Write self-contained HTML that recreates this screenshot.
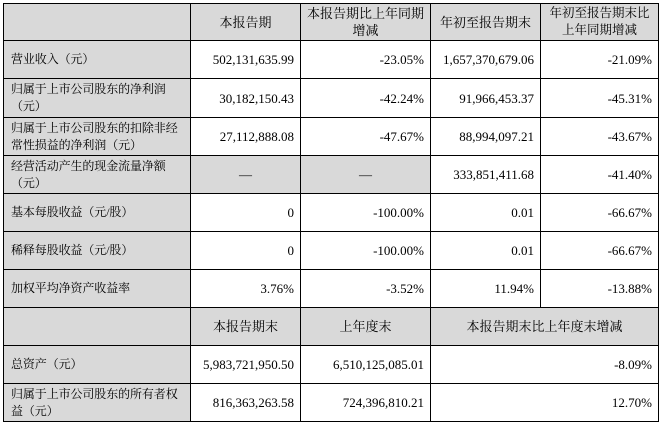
<!DOCTYPE html>
<html><head><meta charset="utf-8"><style>
body{margin:0;background:#fff;width:662px;height:427px;position:relative;overflow:hidden;font-family:"Liberation Serif","Noto Serif CJK SC","Noto Sans CJK SC",serif;font-size:13px;color:#000}
.c{position:absolute;box-sizing:border-box;border:1px solid #000;display:flex;align-items:center;line-height:17px;padding:0 6px;white-space:nowrap}
.g{background:#d9d9d9}
.ct{justify-content:center;text-align:center}
.r{justify-content:flex-end;text-align:right}
.l{justify-content:flex-start;font-size:12px;padding-left:7px;letter-spacing:-0.1px}
</style></head><body>
<div class="c g" style="left:3px;top:3px;width:188px;height:38px"></div>
<div class="c g ct" style="left:190px;top:3px;width:111px;height:38px">本报告期</div>
<div class="c g ct" style="left:300px;top:3px;width:131px;height:38px">本报告期比上年同期<br>增减</div>
<div class="c g ct" style="left:430px;top:3px;width:111px;height:38px">年初至报告期末</div>
<div class="c g ct" style="left:540px;top:3px;width:119px;height:38px;font-size:12.5px">年初至报告期末比<br>上年同期增减</div>

<div class="c g l" style="left:3px;top:40px;width:188px;height:39px">营业收入（元）</div>
<div class="c r" style="left:190px;top:40px;width:111px;height:39px">502,131,635.99</div>
<div class="c r" style="left:300px;top:40px;width:131px;height:39px">-23.05%</div>
<div class="c r" style="left:430px;top:40px;width:111px;height:39px">1,657,370,679.06</div>
<div class="c r" style="left:540px;top:40px;width:119px;height:39px">-21.09%</div>

<div class="c g l" style="left:3px;top:78px;width:188px;height:40px">归属于上市公司股东的净利润<br>（元）</div>
<div class="c r" style="left:190px;top:78px;width:111px;height:40px">30,182,150.43</div>
<div class="c r" style="left:300px;top:78px;width:131px;height:40px">-42.24%</div>
<div class="c r" style="left:430px;top:78px;width:111px;height:40px">91,966,453.37</div>
<div class="c r" style="left:540px;top:78px;width:119px;height:40px">-45.31%</div>

<div class="c g l" style="left:3px;top:117px;width:188px;height:39px">归属于上市公司股东的扣除非经<br>常性损益的净利润（元）</div>
<div class="c r" style="left:190px;top:117px;width:111px;height:39px">27,112,888.08</div>
<div class="c r" style="left:300px;top:117px;width:131px;height:39px">-47.67%</div>
<div class="c r" style="left:430px;top:117px;width:111px;height:39px">88,994,097.21</div>
<div class="c r" style="left:540px;top:117px;width:119px;height:39px">-43.67%</div>

<div class="c g l" style="left:3px;top:155px;width:188px;height:39px">经营活动产生的现金流量净额<br>（元）</div>
<div class="c g ct" style="left:190px;top:155px;width:111px;height:39px">—</div>
<div class="c g ct" style="left:300px;top:155px;width:131px;height:39px">—</div>
<div class="c r" style="left:430px;top:155px;width:111px;height:39px">333,851,411.68</div>
<div class="c r" style="left:540px;top:155px;width:119px;height:39px">-41.40%</div>

<div class="c g l" style="left:3px;top:193px;width:188px;height:39px">基本每股收益（元/股）</div>
<div class="c r" style="left:190px;top:193px;width:111px;height:39px">0</div>
<div class="c r" style="left:300px;top:193px;width:131px;height:39px">-100.00%</div>
<div class="c r" style="left:430px;top:193px;width:111px;height:39px">0.01</div>
<div class="c r" style="left:540px;top:193px;width:119px;height:39px">-66.67%</div>

<div class="c g l" style="left:3px;top:231px;width:188px;height:39px">稀释每股收益（元/股）</div>
<div class="c r" style="left:190px;top:231px;width:111px;height:39px">0</div>
<div class="c r" style="left:300px;top:231px;width:131px;height:39px">-100.00%</div>
<div class="c r" style="left:430px;top:231px;width:111px;height:39px">0.01</div>
<div class="c r" style="left:540px;top:231px;width:119px;height:39px">-66.67%</div>

<div class="c g l" style="left:3px;top:269px;width:188px;height:39px">加权平均净资产收益率</div>
<div class="c r" style="left:190px;top:269px;width:111px;height:39px">3.76%</div>
<div class="c r" style="left:300px;top:269px;width:131px;height:39px">-3.52%</div>
<div class="c r" style="left:430px;top:269px;width:111px;height:39px">11.94%</div>
<div class="c r" style="left:540px;top:269px;width:119px;height:39px">-13.88%</div>

<div class="c g" style="left:3px;top:307px;width:188px;height:39px"></div>
<div class="c g ct" style="left:190px;top:307px;width:111px;height:39px">本报告期末</div>
<div class="c g ct" style="left:300px;top:307px;width:131px;height:39px">上年度末</div>
<div class="c g ct" style="left:430px;top:307px;width:229px;height:39px">本报告期末比上年度末增减</div>

<div class="c g l" style="left:3px;top:345px;width:188px;height:39px">总资产（元）</div>
<div class="c r" style="left:190px;top:345px;width:111px;height:39px">5,983,721,950.50</div>
<div class="c r" style="left:300px;top:345px;width:131px;height:39px">6,510,125,085.01</div>
<div class="c r" style="left:430px;top:345px;width:229px;height:39px">-8.09%</div>

<div class="c g l" style="left:3px;top:383px;width:188px;height:39px">归属于上市公司股东的所有者权<br>益（元）</div>
<div class="c r" style="left:190px;top:383px;width:111px;height:39px">816,363,263.58</div>
<div class="c r" style="left:300px;top:383px;width:131px;height:39px">724,396,810.21</div>
<div class="c r" style="left:430px;top:383px;width:229px;height:39px">12.70%</div>
</body></html>
